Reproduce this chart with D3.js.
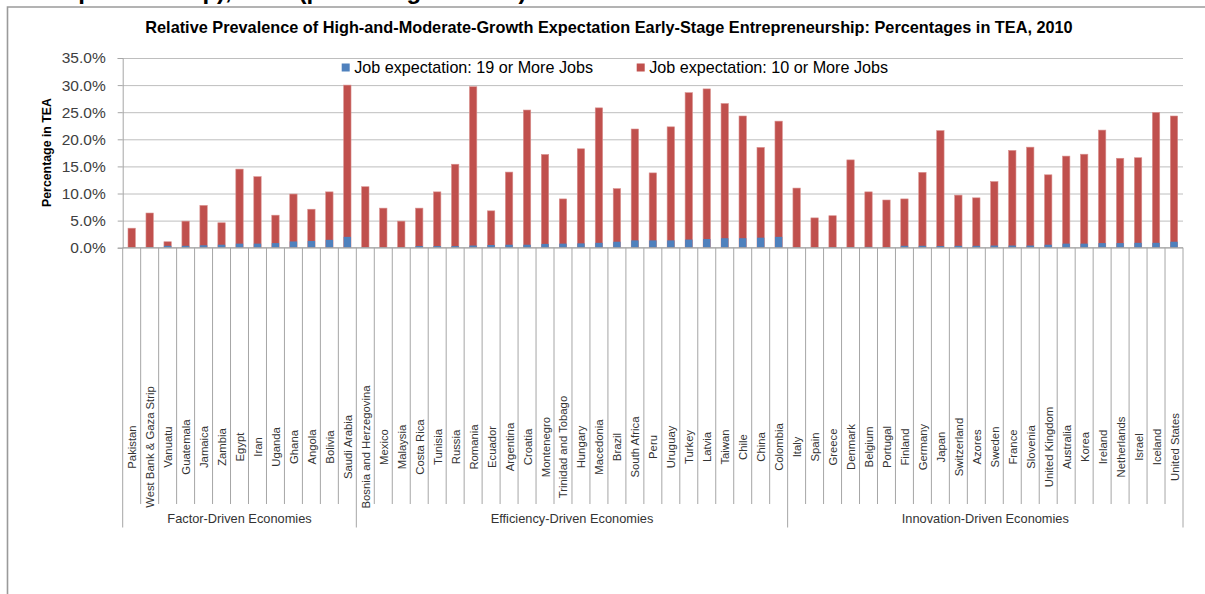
<!DOCTYPE html>
<html>
<head>
<meta charset="utf-8">
<script src="https://cdn.jsdelivr.net/npm/d3@7"></script>
<style>
  html, body { margin: 0; padding: 0; background: #ffffff; }
  svg { display: block; font-family: "Liberation Sans", Arial, sans-serif; }
</style>
</head>
<body>
<svg id="chart" width="1205" height="594"></svg>
<script>
// ---------------- DATA ----------------
const groupNames = ["Factor-Driven Economies", "Efficiency-Driven Economies", "Innovation-Driven Economies"];

const factorCountries = ["Pakistan", "West Bank & Gaza Strip", "Vanuatu", "Guatemala", "Jamaica", "Zambia", "Egypt", "Iran", "Uganda", "Ghana", "Angola", "Bolivia", "Saudi Arabia"];
const efficiencyCountries = ["Bosnia and Herzegovina", "Mexico", "Malaysia", "Costa Rica", "Tunisia", "Russia", "Romania", "Ecuador", "Argentina", "Croatia", "Montenegro", "Trinidad and Tobago", "Hungary", "Macedonia", "Brazil", "South Africa", "Peru", "Uruguay", "Turkey", "Latvia", "Taiwan", "Chile", "China", "Colombia"];
const innovationCountries = ["Italy", "Spain", "Greece", "Denmark", "Belgium", "Portugal", "Finland", "Germany", "Japan", "Switzerland", "Azores", "Sweden", "France", "Slovenia", "United Kingdom", "Australia", "Korea", "Ireland", "Netherlands", "Israel", "Iceland", "United States"];

// Job expectation: 10 or more jobs (% of TEA)
const jobs10Factor = [3.6, 6.4, 1.1, 4.9, 7.8, 4.6, 14.5, 13.1, 6.0, 9.9, 7.1, 10.3, 30.0];
const jobs10Efficiency = [11.25, 7.3, 4.9, 7.3, 10.3, 15.4, 29.7, 6.8, 13.95, 25.4, 17.2, 9.0, 18.25, 25.8, 10.9, 21.9, 13.8, 22.3, 28.6, 29.3, 26.6, 24.3, 18.5, 23.35];
const jobs10Innovation = [11.0, 5.5, 5.9, 16.2, 10.3, 8.8, 9.0, 13.9, 21.6, 9.7, 9.2, 12.2, 17.95, 18.55, 13.45, 16.9, 17.25, 21.7, 16.5, 16.6, 24.95, 24.3];

// Job expectation: 19 or more jobs (% of TEA)
const jobs19Factor = [0.0, 0.1, 0.35, 0.35, 0.45, 0.55, 0.75, 0.75, 0.85, 1.15, 1.25, 1.45, 2.0];
const jobs19Efficiency = [0.05, 0.05, 0.05, 0.3, 0.3, 0.3, 0.4, 0.5, 0.55, 0.55, 0.7, 0.75, 0.8, 0.9, 1.1, 1.35, 1.35, 1.35, 1.5, 1.6, 1.75, 1.75, 1.85, 2.0];
const jobs19Innovation = [0.05, 0.0, 0.1, 0.1, 0.15, 0.1, 0.35, 0.35, 0.3, 0.35, 0.35, 0.4, 0.4, 0.4, 0.55, 0.75, 0.75, 0.85, 0.85, 0.9, 0.9, 1.1];

const yTicks = [0, 5, 10, 15, 20, 25, 30, 35];
const seriesNames = ["Job expectation: 19 or More Jobs", "Job expectation: 10 or More Jobs"];
const chartTitle = "Relative Prevalence of High-and-Moderate-Growth Expectation Early-Stage Entrepreneurship: Percentages in TEA, 2010";
const yTitle = "Percentage in TEA";
const headerFragment = "Entrepreneurship), 2010 (percentage of TEA)";

// ---------------- BUILD ----------------
const groupLists = [factorCountries, efficiencyCountries, innovationCountries];
const countries = [].concat(...groupLists);
const jobs10 = [].concat(jobs10Factor, jobs10Efficiency, jobs10Innovation);
const jobs19 = [].concat(jobs19Factor, jobs19Efficiency, jobs19Innovation);
const rows = countries.map((c, i) => ({ country: c, v10: jobs10[i], v19: jobs19[i] }));

const COLORS = { blue: "#4F81BD", red: "#C0504D", grid: "#BEBEBE", axis: "#A6A6A6", text: "#404040" };

const svg = d3.select("#chart");

const plotLeft = 122.7, plotRight = 1183, plotBottom = 247.7, plotTop = 58;
const tickBottom = 504, groupBottom = 527.5;

const x = d3.scaleBand().domain(countries).range([plotLeft, plotRight]).paddingInner(0).paddingOuter(0);
const y = d3.scaleLinear().domain([0, 35]).range([plotBottom, plotTop]);
const barW = x.bandwidth() * 0.41;

function fitWidth(sel, target) {
  const node = sel.node();
  const fs = parseFloat(sel.attr("font-size"));
  const w = node.getComputedTextLength();
  const nfs = fs * target / w;
  sel.attr("font-size", nfs.toFixed(2));
  return nfs;
}

// header fragment (cropped at top of page, as in the reference)
svg.append("text")
  .attr("x", 17).attr("y", -1)
  .attr("font-size", 24).attr("font-weight", "bold").attr("fill", "#000")
  .text(headerFragment);

// frame
svg.append("path")
  .attr("d", "M7.5,594 L7.5,7 L1205,7")
  .attr("fill", "none").attr("stroke", "#9a9a9a").attr("stroke-width", 1.6);

// title
const t = svg.append("text")
  .attr("x", 609).attr("y", 33)
  .attr("text-anchor", "middle")
  .attr("font-size", 14).attr("font-weight", "bold").attr("fill", "#000")
  .text(chartTitle);
fitWidth(t, 928);

// gridlines
svg.append("g")
  .attr("transform", `translate(${plotLeft},0)`)
  .call(d3.axisLeft(y).tickValues(yTicks).tickSize(-(plotRight - plotLeft)).tickFormat(""))
  .call(g => g.select(".domain").remove())
  .call(g => g.selectAll("line").attr("stroke", COLORS.grid).attr("stroke-width", 1));

// y axis
const yAxisG = svg.append("g")
  .attr("transform", `translate(${plotLeft},0)`)
  .call(d3.axisLeft(y).tickValues(yTicks).tickSize(5).tickPadding(12).tickFormat(d => d.toFixed(1) + "%"))
  .call(g => g.select(".domain").attr("stroke", COLORS.axis))
  .call(g => g.selectAll("line").attr("stroke", COLORS.axis))
  .call(g => g.selectAll("text").attr("font-size", 13).attr("fill", COLORS.text)
    .attr("font-family", "'Liberation Sans', Arial, sans-serif"));
{
  const last = yAxisG.selectAll(".tick text").filter(d => d === 35);
  const fs = fitWidth(last, 44);
  yAxisG.selectAll(".tick text").attr("font-size", fs.toFixed(2));
}

// y title
const yt = svg.append("text")
  .attr("transform", "translate(47,152.5) rotate(-90)")
  .attr("text-anchor", "middle").attr("dominant-baseline", "central")
  .attr("font-size", 12).attr("font-weight", "bold").attr("fill", "#000")
  .text(yTitle);
fitWidth(yt, 109);

// bars
const bars = svg.append("g");
bars.selectAll("rect.r10").data(rows).join("rect")
  .attr("class", "r10")
  .attr("x", d => x(d.country) + (x.bandwidth() - barW) / 2)
  .attr("width", barW)
  .attr("y", d => y(d.v10))
  .attr("height", d => y(0) - y(d.v10))
  .attr("fill", COLORS.red)
  .attr("stroke", "#D9908E").attr("stroke-width", 0.6);
bars.selectAll("rect.r19").data(rows.filter(d => d.v19 > 0)).join("rect")
  .attr("class", "r19")
  .attr("x", d => x(d.country) + (x.bandwidth() - barW) / 2)
  .attr("width", barW)
  .attr("y", d => y(d.v19))
  .attr("height", d => y(0) - y(d.v19))
  .attr("fill", COLORS.blue);

// x axis line
svg.append("line")
  .attr("x1", plotLeft).attr("x2", plotRight)
  .attr("y1", plotBottom).attr("y2", plotBottom)
  .attr("stroke", COLORS.axis);

// category boundaries
const boundaries = countries.map(c => x(c)).concat([plotRight]);
const groupStarts = [];
let acc = 0;
groupLists.forEach(l => { groupStarts.push(acc); acc += l.length; });
groupStarts.push(acc);
const groupBoundaryIdx = new Set(groupStarts);

svg.append("g").selectAll("line").data(boundaries).join("line")
  .attr("x1", d => d).attr("x2", d => d)
  .attr("y1", plotBottom)
  .attr("y2", (d, i) => groupBoundaryIdx.has(i) ? groupBottom : tickBottom)
  .attr("stroke", COLORS.axis).attr("stroke-width", 1);

// category labels
svg.append("g").selectAll("text").data(countries).join("text")
  .attr("transform", c => `translate(${x(c) + x.bandwidth() / 2 + 0.5},447) rotate(-90)`)
  .attr("text-anchor", "middle").attr("dominant-baseline", "central")
  .attr("font-size", 11.3).attr("fill", "#333")
  .text(c => c);

// group labels
svg.append("g").selectAll("text").data(groupNames).join("text")
  .attr("x", (g, i) => (boundaries[groupStarts[i]] + boundaries[groupStarts[i + 1]]) / 2)
  .attr("y", 518.5)
  .attr("text-anchor", "middle").attr("dominant-baseline", "central")
  .attr("font-size", 12.8).attr("fill", "#333")
  .text(g => g);

// legend
const legendX = [341.7, 636.7];
const legendColors = [COLORS.blue, COLORS.red];
seriesNames.forEach((name, i) => {
  svg.append("rect")
    .attr("x", legendX[i]).attr("y", 63.5).attr("width", 8).attr("height", 8)
    .attr("fill", legendColors[i]);
  const lt = svg.append("text")
    .attr("x", legendX[i] + 12.5).attr("y", 72.5)
    .attr("font-size", 15).attr("fill", "#000")
    .text(name);
  fitWidth(lt, 239);
});
</script>
</body>
</html>
